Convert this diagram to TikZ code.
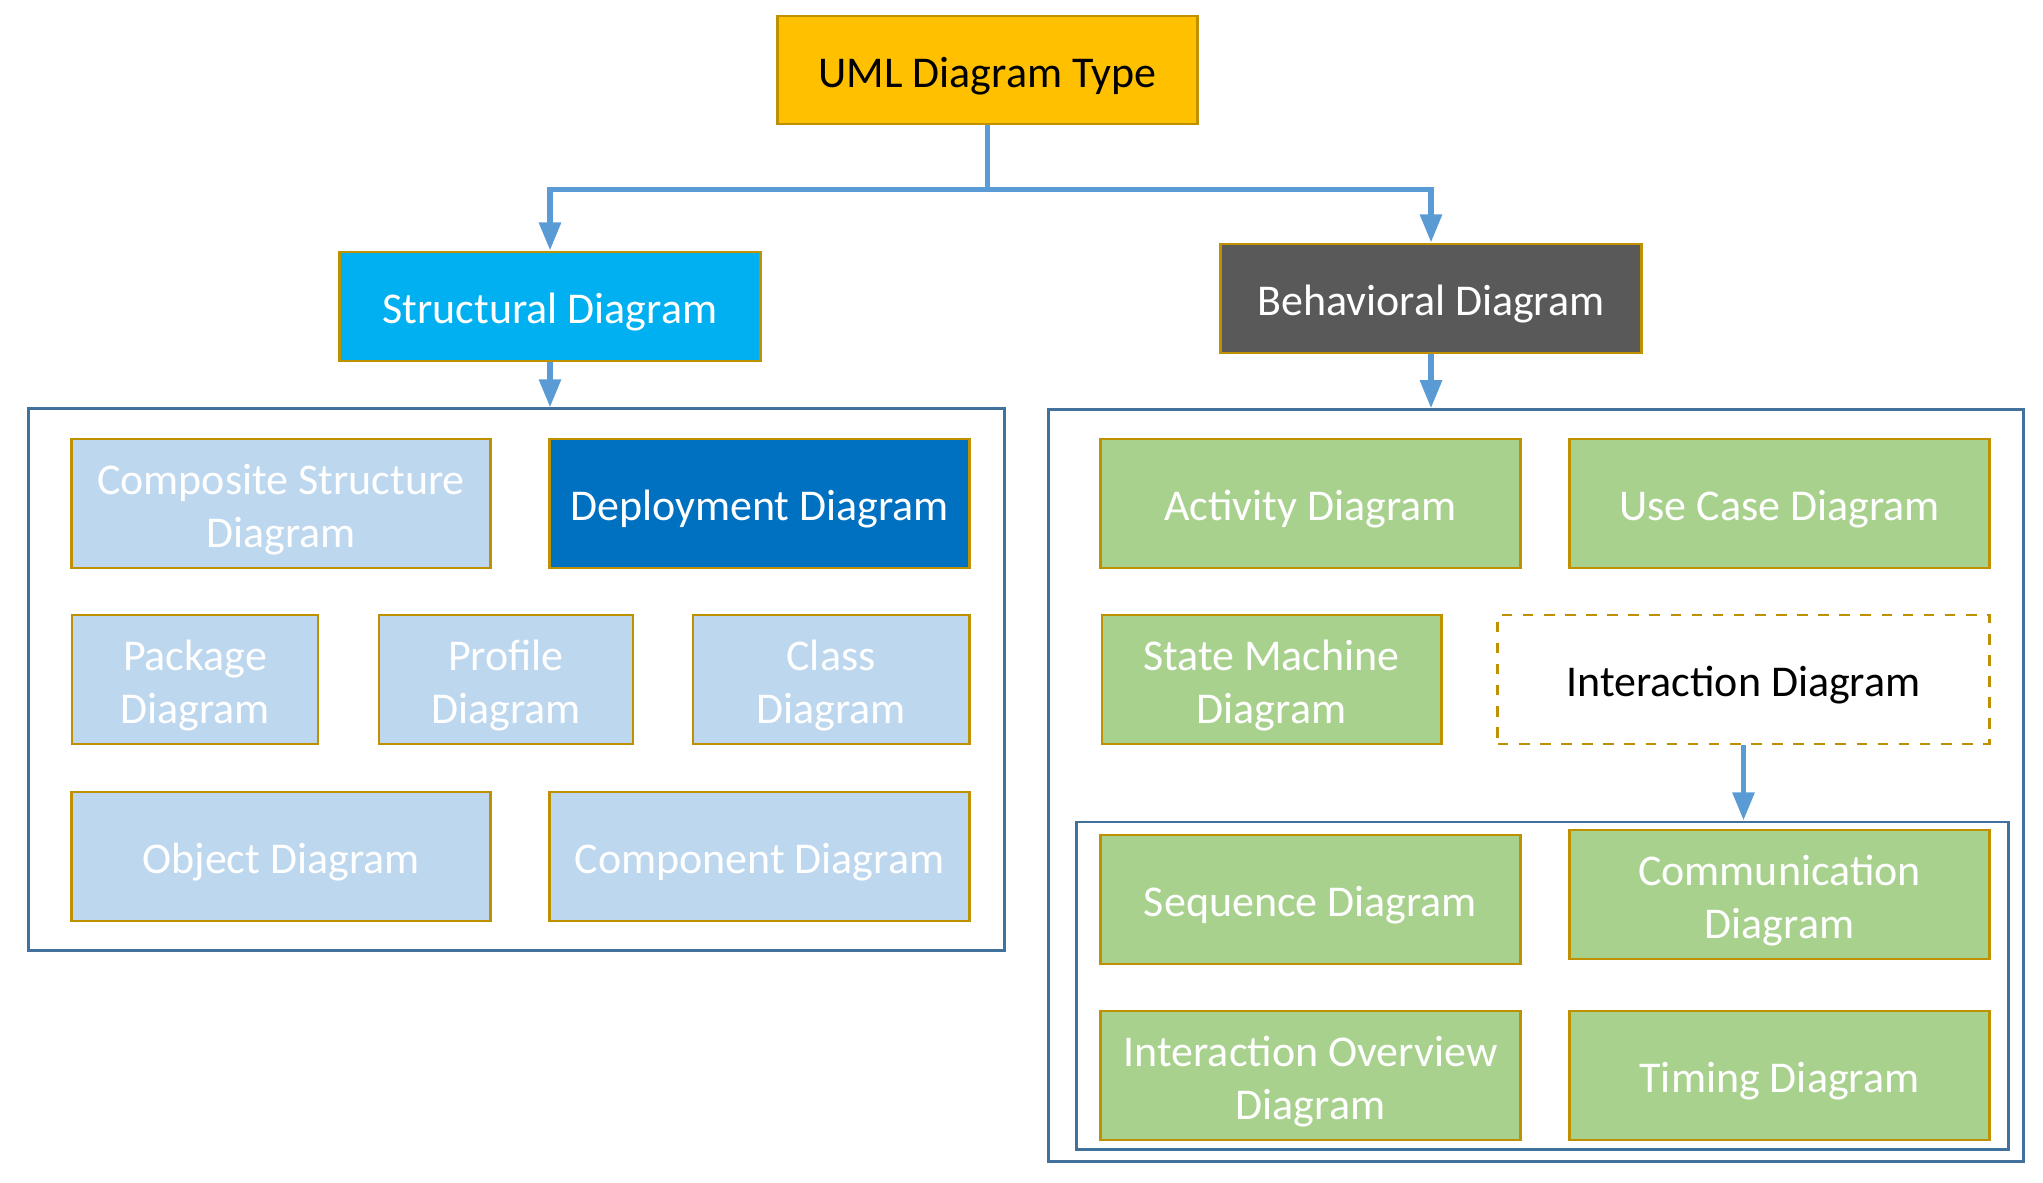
\documentclass[tikz,border=0pt]{standalone}
\usepackage{fontspec}
\setmainfont{Carlito}
\usetikzlibrary{arrows.meta}
\definecolor{umlgold}{HTML}{FFC000}
\definecolor{edgegold}{HTML}{BF9000}
\definecolor{structblue}{HTML}{00B0F0}
\definecolor{behavgray}{HTML}{595959}
\definecolor{paleblue}{HTML}{BDD7EE}
\definecolor{deepblue}{HTML}{0070C0}
\definecolor{leafgreen}{HTML}{A9D18E}
\definecolor{groupline}{HTML}{41719C}
\definecolor{arrowblue}{HTML}{5B9BD5}
\newcommand\upstrut{\rule{0pt}{12pt}}
\tikzset{
  kind/.style={draw=edgegold,line width=0.8pt,minimum height=1.29cm,align=center,
    font=\fontsize{12.5}{15}\selectfont,text=white,inner sep=0pt},
  sbox/.style={kind,fill=paleblue},
  bbox/.style={kind,fill=leafgreen},
  group/.style={draw=groupline,line width=0.8pt,inner sep=0pt},
  arr/.style={draw=arrowblue,line width=1.6pt,-{Triangle[length=8pt,width=6pt]}}
}
\begin{document}
\begin{tikzpicture}[x=0.01cm,y=-0.01cm]
\useasboundingbox (0,0) rectangle (2043,1182);
% top levels
\node[kind,fill=umlgold,text=black,minimum width=4.19cm,minimum height=1.08cm] (uml) at (987.5,70) {\upstrut UML Diagram Type};
\node[kind,fill=structblue,minimum width=4.2cm,minimum height=1.09cm] (struct) at (550,306.5) {\upstrut Structural Diagram};
\node[kind,fill=behavgray,minimum width=4.21cm,minimum height=1.09cm] (behav) at (1431,298.5) {\upstrut Behavioral Diagram};
% groups
\node[group,minimum width=9.75cm,minimum height=5.41cm] (lgroup) at (516.5,679.5) {};
\node[group,minimum width=9.74cm,minimum height=7.51cm] (rgroup) at (1536,785.5) {};
\node[group,minimum width=9.31cm,minimum height=3.27cm] (igroup) at (1542.5,985.5) {};
% structural diagrams
\node[sbox,minimum width=4.19cm] (compo) at (281,503.5) {\upstrut Composite Structure\\Diagram};
\node[kind,fill=deepblue,minimum width=4.19cm] (deploy) at (759.5,503.5) {\upstrut Deployment Diagram};
\node[sbox,minimum width=2.46cm] (pack) at (195,679.5) {\upstrut Package\\Diagram};
\node[sbox,minimum width=2.54cm] (profile) at (506,679.5) {\upstrut Profile\\Diagram};
\node[sbox,minimum width=2.76cm] (class) at (831,679.5) {\upstrut Class\\Diagram};
\node[sbox,minimum width=4.19cm] (object) at (281,856.5) {\upstrut Object Diagram};
\node[sbox,minimum width=4.19cm] (compon) at (759.5,856.5) {\upstrut Component Diagram};
% behavioral diagrams
\node[bbox,minimum width=4.19cm] (activity) at (1310.5,503.5) {\upstrut Activity Diagram};
\node[bbox,minimum width=4.19cm] (usecase) at (1779.5,503.5) {\upstrut Use Case Diagram};
\node[bbox,minimum width=3.39cm] (state) at (1271.5,679.5) {\upstrut State Machine\\Diagram};
\node[kind,fill=white,text=black,dashed,minimum width=4.91cm] (inter) at (1743.5,679.5) {\upstrut Interaction Diagram};
\node[bbox,minimum width=4.19cm] (sequence) at (1310.5,899.5) {\upstrut Sequence Diagram};
\node[bbox,minimum width=4.19cm] (commu) at (1779.5,894.5) {\upstrut Communication\\Diagram};
\node[bbox,minimum width=4.19cm] (overview) at (1310.5,1075.5) {\upstrut Interaction Overview\\Diagram};
\node[bbox,minimum width=4.19cm] (timing) at (1779.5,1075.5) {\upstrut Timing Diagram};
% connectors
\draw[arr] (uml.south) -- ++(0,64) -| (struct.north);
\draw[arr] (uml.south) -- ++(0,64) -| (behav.north);
\draw[arr] (struct.south) -- (struct.south |- lgroup.north);
\draw[arr] (behav.south) -- (behav.south |- rgroup.north);
\draw[arr] (inter.south) -- (inter.south |- igroup.north);
\end{tikzpicture}
\end{document}
